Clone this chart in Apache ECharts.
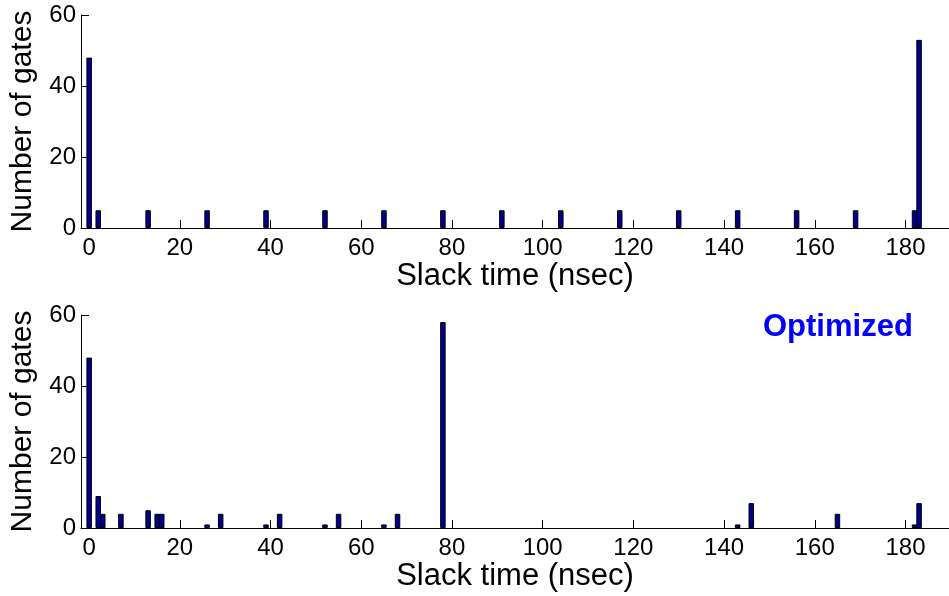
<!DOCTYPE html>
<html>
<head>
<meta charset="utf-8">
<script src="https://cdn.jsdelivr.net/npm/echarts@6/dist/echarts.min.js"></script>
<style>
html,body{margin:0;padding:0;background:#fff;}
#chart{width:949px;height:596px;}
</style>
</head>
<body>
<div id="chart"></div>
<script>
// Data
var topSlack = [0, 2, 13, 26, 39, 52, 65, 78, 91, 104, 117, 130, 143, 156, 169, 182, 183];
var topCounts = [48, 5, 5, 5, 5, 5, 5, 5, 5, 5, 5, 5, 5, 5, 5, 5, 53];
var botSlack = [0, 2, 3, 7, 13, 15, 16, 26, 29, 39, 42, 52, 55, 65, 68, 78, 143, 146, 165, 182, 183];
var botCounts = [48, 9, 4, 4, 5, 4, 4, 1, 4, 1, 4, 1, 4, 1, 4, 58, 1, 7, 4, 1, 7];
var xTicks = [0, 20, 40, 60, 80, 100, 120, 140, 160, 180];
var yTicks = [0, 20, 40, 60];
var xTitle = 'Slack time (nsec)';
var yTitle = 'Number of gates';
var annotation = 'Optimized';

var FONT = 'Liberation Sans, Arial, sans-serif';

function pairs(xs, ys) {
  return xs.map(function (x, i) { return [x, ys[i]]; });
}

function xAxisCfg(gridIndex) {
  return {
    type: 'value', gridIndex: gridIndex,
    min: -1.8, max: 189.6,
    name: xTitle, nameLocation: 'middle', nameGap: 31,
    nameTextStyle: { fontFamily: FONT, fontSize: 31, color: '#000' },
    axisLine: { show: true, onZero: false, lineStyle: { color: '#000', width: 1 } },
    axisTick: { show: true, inside: true, length: 8, customValues: xTicks, lineStyle: { color: '#000' } },
    axisLabel: { customValues: xTicks, margin: 8, fontFamily: FONT, fontSize: 24, color: '#000' },
    splitLine: { show: false }
  };
}
function yAxisCfg(gridIndex) {
  return {
    type: 'value', gridIndex: gridIndex,
    min: 0, max: 60, interval: 20,
    name: yTitle, nameLocation: 'middle', nameGap: 43,
    nameTextStyle: { fontFamily: FONT, fontSize: 30, color: '#000' },
    axisLine: { show: true, onZero: false, lineStyle: { color: '#000', width: 1 } },
    axisTick: { show: true, inside: true, length: 8, customValues: yTicks, lineStyle: { color: '#000' } },
    axisLabel: { customValues: yTicks, margin: 5, fontFamily: FONT, fontSize: 24, color: '#000' },
    splitLine: { show: false }
  };
}
function barSeries(idx, data) {
  return {
    type: 'bar', xAxisIndex: idx, yAxisIndex: idx,
    data: data, barWidth: 5.5, silent: true,
    itemStyle: { color: '#00008f', borderColor: '#000', borderWidth: 1 },
    animation: false
  };
}

var chart = echarts.init(document.getElementById('chart'), null, { renderer: 'canvas' });
chart.setOption({
  backgroundColor: '#fff',
  animation: false,
  grid: [
    { left: 81, right: 0, top: 15, height: 213, containLabel: false, outerBoundsMode: 'none' },
    { left: 81, right: 0, top: 315, height: 213, containLabel: false, outerBoundsMode: 'none' }
  ],
  xAxis: [xAxisCfg(0), xAxisCfg(1)],
  yAxis: [yAxisCfg(0), yAxisCfg(1)],
  series: [barSeries(0, pairs(topSlack, topCounts)), barSeries(1, pairs(botSlack, botCounts))],
  graphic: [{
    type: 'text', left: 763, top: 312,
    style: { text: annotation, font: 'bold 31px ' + FONT, fill: '#0000ff' }
  }]
});
</script>
</body>
</html>
